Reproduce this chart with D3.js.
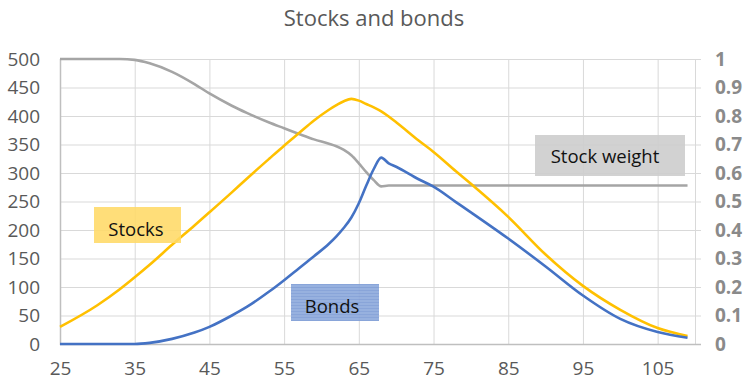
<!DOCTYPE html>
<html>
<head>
<meta charset="utf-8">
<script src="https://cdn.jsdelivr.net/npm/d3@7"></script>
<style>
  html, body { margin: 0; padding: 0; background: #fff; }
  svg { display: block; font-family: "Open Sans", sans-serif; }
</style>
</head>
<body>
<svg id="chart" width="746" height="382"></svg>
<script>
// Ages (x values) shared by all three series
const ages   = [25, 30, 33, 35, 37, 40, 43, 45, 48, 50, 53, 55, 57, 59, 61, 62, 63, 64, 65, 66, 67, 68, 69, 70, 73, 75, 78, 80, 85, 90, 95, 100, 105, 109];
// Stock holdings (left axis)
const stocks = [30, 68, 96, 117, 139, 174, 208, 231, 266, 290, 325, 348, 370, 392, 411, 419, 426, 430, 427, 421, 415, 408, 399, 389, 357, 337, 303, 281, 223, 157, 102, 60, 28, 14];
// Bond holdings (left axis)
const bonds  = [0, 0, 0, 0, 2, 9, 20, 30, 50, 65, 92, 112, 133, 154, 176, 189, 204, 222, 247, 278, 307, 327, 317, 311, 289, 276, 249, 231, 185, 136, 85, 44, 21, 11];
// Share held in stocks (right axis)
const weight = [1, 1, 1, 0.997, 0.985, 0.955, 0.912, 0.879, 0.836, 0.811, 0.777, 0.757, 0.737, 0.718, 0.703, 0.694, 0.681, 0.662, 0.634, 0.603, 0.575, 0.553, 0.556, 0.556, 0.556, 0.556, 0.556, 0.556, 0.556, 0.556, 0.556, 0.556, 0.556, 0.556];

const xTicks      = [25, 35, 45, 55, 65, 75, 85, 95, 105];
const leftTicks   = [0, 50, 100, 150, 200, 250, 300, 350, 400, 450, 500];
const rightTicks  = [0, 0.1, 0.2, 0.3, 0.4, 0.5, 0.6, 0.7, 0.8, 0.9, 1];

const svg = d3.select("#chart");
const plot = { left: 60, right: 695, top: 59, bottom: 344 };

const x  = d3.scaleLinear().domain([25, 110]).range([plot.left, plot.right]);
const yL = d3.scaleLinear().domain([0, 500]).range([plot.bottom, plot.top]);
const yR = d3.scaleLinear().domain([0, 1]).range([plot.bottom, plot.top]);

const textGrey = "#595959";
const gridGrey = "#d9d9d9";

// Title
svg.append("text")
  .attr("x", 374).attr("y", 26)
  .attr("text-anchor", "middle")
  .attr("fill", textGrey)
  .attr("font-size", 22)
  .text("Stocks and bonds");

// Horizontal gridlines (with right-side tick extension)
svg.append("g")
  .selectAll("line").data(leftTicks).join("line")
  .attr("x1", plot.left).attr("x2", plot.right + 6)
  .attr("y1", d => yL(d) + 0.5).attr("y2", d => yL(d) + 0.5)
  .attr("stroke", gridGrey).attr("stroke-width", 1);

// Vertical gridlines
svg.append("g")
  .selectAll("line").data(xTicks.slice(1)).join("line")
  .attr("x1", d => x(d) + 0.5).attr("x2", d => x(d) + 0.5)
  .attr("y1", plot.top).attr("y2", plot.bottom)
  .attr("stroke", gridGrey).attr("stroke-width", 1);

// Right axis line
svg.append("line")
  .attr("x1", plot.right + 0.5).attr("x2", plot.right + 0.5)
  .attr("y1", plot.top).attr("y2", plot.bottom)
  .attr("stroke", gridGrey);

// Left axis line and bottom axis line
svg.append("line")
  .attr("x1", plot.left + 0.5).attr("x2", plot.left + 0.5)
  .attr("y1", plot.top).attr("y2", plot.bottom + 1)
  .attr("stroke", "#bfbfbf").attr("stroke-width", 1.5);
svg.append("line")
  .attr("x1", plot.left).attr("x2", plot.right + 6)
  .attr("y1", plot.bottom + 0.5).attr("y2", plot.bottom + 0.5)
  .attr("stroke", "#bfbfbf").attr("stroke-width", 1.5);

// Axis labels
const leftAxis = d3.axisLeft(yL).tickValues(leftTicks).tickSize(0).tickPadding(20);
svg.append("g").attr("transform", `translate(${plot.left},0)`).call(leftAxis)
  .call(g => g.select(".domain").remove())
  .call(g => g.selectAll("text").attr("fill", textGrey).attr("font-size", 19)
    .attr("font-family", "'Open Sans', sans-serif"));

const rightAxis = d3.axisRight(yR).tickValues(rightTicks).tickSize(0).tickPadding(20)
  .tickFormat(d3.format("~g"));
svg.append("g").attr("transform", `translate(${plot.right},0)`).call(rightAxis)
  .call(g => g.select(".domain").remove())
  .call(g => g.selectAll("text").attr("fill", "#8a8a8a").attr("font-size", 19)
    .attr("font-weight", 700)
    .attr("font-family", "'Open Sans', sans-serif"));

const bottomAxis = d3.axisBottom(x).tickValues(xTicks).tickSize(0).tickPadding(18);
svg.append("g").attr("transform", `translate(0,${plot.bottom})`).call(bottomAxis)
  .call(g => g.select(".domain").remove())
  .call(g => g.selectAll("text").attr("fill", textGrey).attr("font-size", 19)
    .attr("font-family", "'Open Sans', sans-serif"));

// Series lines
const lineL = d3.line().x((d, i) => x(ages[i])).y(d => yL(d)).curve(d3.curveMonotoneX);
const lineR = d3.line().x((d, i) => x(ages[i])).y(d => yR(d)).curve(d3.curveMonotoneX);

svg.append("path").datum(weight).attr("d", lineR)
  .attr("fill", "none").attr("stroke", "#a5a5a5").attr("stroke-width", 2.6);
svg.append("path").datum(stocks).attr("d", lineL)
  .attr("fill", "none").attr("stroke", "#ffc000").attr("stroke-width", 2.6);
svg.append("path").datum(bonds).attr("d", lineL)
  .attr("fill", "none").attr("stroke", "#4472c4").attr("stroke-width", 2.6);

// Striped fill for the bonds label
const defs = svg.append("defs");
const pat = defs.append("pattern").attr("id", "stripes")
  .attr("patternUnits", "userSpaceOnUse").attr("width", 4).attr("height", 3);
pat.append("rect").attr("width", 4).attr("height", 3).attr("fill", "#8eaadc");
pat.append("rect").attr("y", 2).attr("width", 4).attr("height", 1).attr("fill", "#7f9dd6");

// Text boxes labelling each series
const labels = [
  { text: "Stocks",       x0: 94,  y0: 207, w: 87,  h: 36, fill: "#ffd966", op: 0.88, tx: 136, ty: 236 },
  { text: "Bonds",        x0: 291, y0: 284, w: 88,  h: 37, fill: "url(#stripes)", op: 0.92, tx: 332, ty: 313 },
  { text: "Stock weight", x0: 535, y0: 135, w: 150, h: 41, fill: "#cdcdcd", op: 0.9, tx: 605, ty: 163 }
];
const lg = svg.append("g").selectAll("g").data(labels).join("g");
lg.append("rect")
  .attr("x", d => d.x0).attr("y", d => d.y0)
  .attr("width", d => d.w).attr("height", d => d.h)
  .attr("fill", d => d.fill).attr("opacity", d => d.op);
lg.append("text")
  .attr("x", d => d.tx).attr("y", d => d.ty)
  .attr("text-anchor", "middle")
  .attr("font-size", 18.5).attr("fill", "#111")
  .text(d => d.text);
</script>
</body>
</html>
